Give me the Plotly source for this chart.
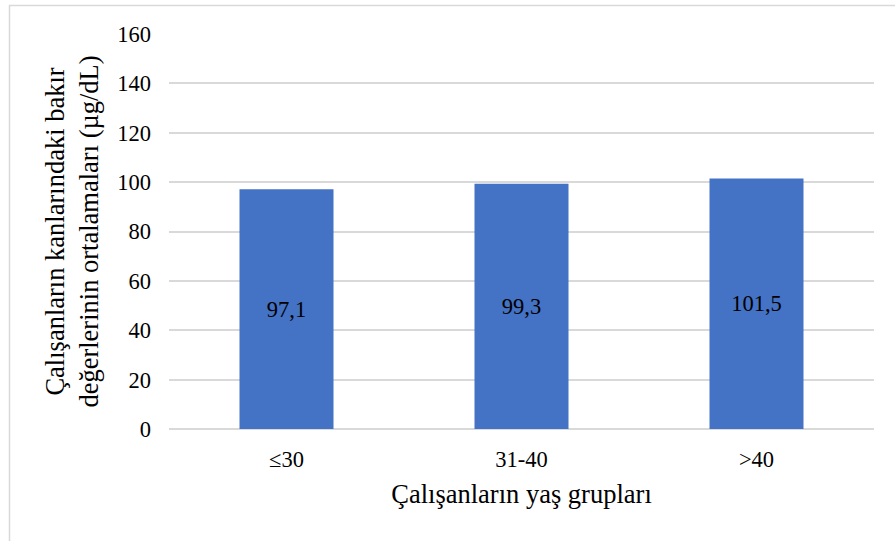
import plotly.graph_objects as go

categories = ["≤30", "31-40", ">40"]
values = [97.1, 99.3, 101.5]
labels = ["97,1", "99,3", "101,5"]

font_family = "'Times New Roman', 'Liberation Serif', serif"
fs = 22.5
ts = 26.5

fig = go.Figure()
fig.add_trace(go.Bar(
    x=categories, y=values, text=labels,
    textposition="inside", insidetextanchor="middle",
    textfont=dict(family=font_family, size=fs, color="#000000"),
    marker=dict(color="#4472C4", line=dict(width=0)),
    width=0.4, hoverinfo="skip",
))

fig.update_layout(
    width=895, height=541,
    margin=dict(l=169, r=21, t=34, b=112),
    paper_bgcolor="white", plot_bgcolor="white",
    font=dict(family=font_family, size=fs, color="#000000"),
    showlegend=False,
    xaxis=dict(
        showgrid=False, showline=False, ticks="",
        tickfont=dict(family=font_family, size=fs, color="#000000"),
        ticklabelstandoff=14,
        title=dict(text="Çalışanların yaş grupları",
                   font=dict(family=font_family, size=ts, color="#000000"), standoff=13),
    ),
    yaxis=dict(
        range=[0, 160], dtick=20, tick0=0,
        showgrid=True, gridcolor="#d9d9d9", gridwidth=1.5,
        zeroline=True, zerolinecolor="#d9d9d9", zerolinewidth=1.5,
        showline=False, ticks="", ticklabelstandoff=17,
        tickfont=dict(family=font_family, size=fs, color="#000000"),
        title=dict(text="Çalışanların kanlarındaki bakır<br>değerlerinin ortalamaları (µg/dL)",
                   font=dict(family=font_family, size=ts, color="#000000"), standoff=10),
    ),
    shapes=[dict(
        type="rect", xref="paper", yref="paper",
        x0=(9.5 - 169) / 705, x1=1.2, y0=-0.5, y1=1 + (34 - 5.5) / 395,
        line=dict(color="#d9d9d9", width=1.5), fillcolor="rgba(0,0,0,0)", layer="below",
    )],
)

fig.write_html("out.html", config={"displayModeBar": False},
               post_script="document.body.style.margin='0';document.body.style.padding='0';")
